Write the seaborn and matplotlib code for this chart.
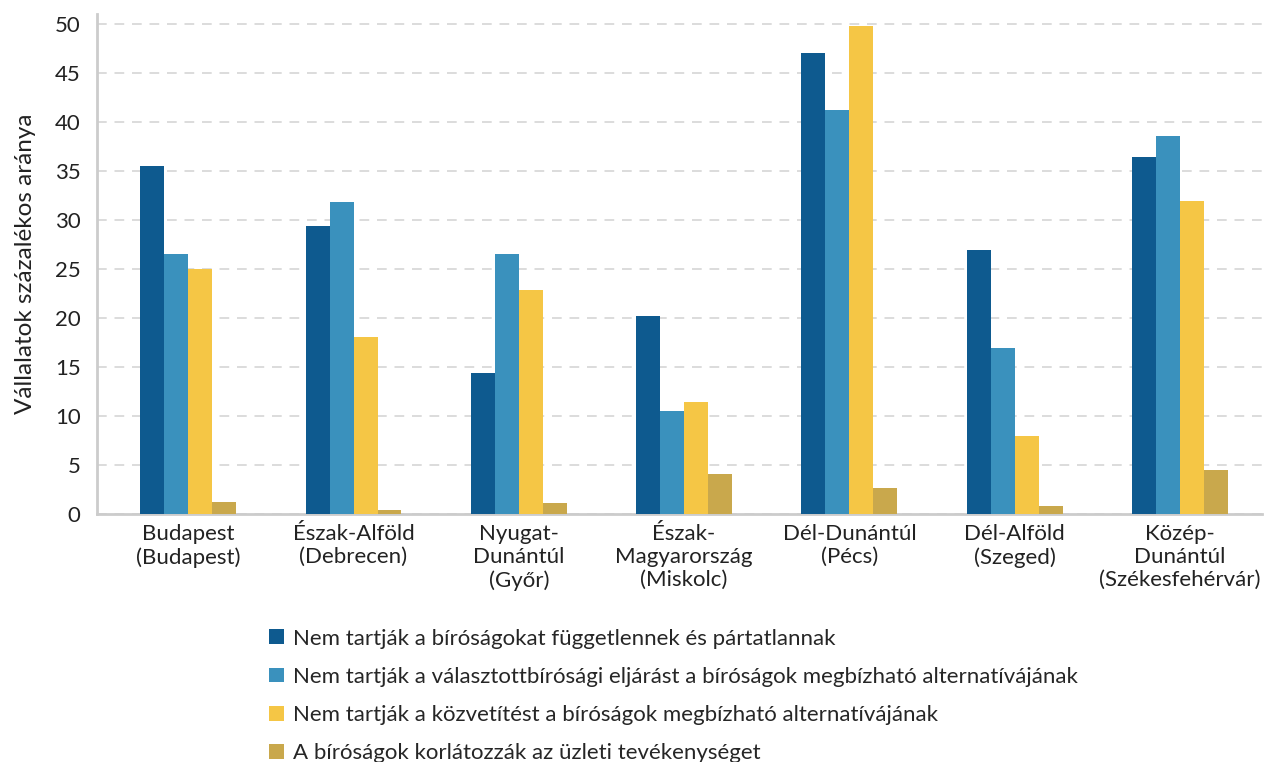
import pandas as pd
import numpy as np
import matplotlib
matplotlib.use("Agg")
import matplotlib.pyplot as plt
import seaborn as sns

regions = ["Budapest\n(Budapest)", "Észak-Alföld\n(Debrecen)", "Nyugat-\nDunántúl\n(Győr)",
           "Észak-\nMagyarország\n(Miskolc)", "Dél-Dunántúl\n(Pécs)", "Dél-Alföld\n(Szeged)",
           "Közép-\nDunántúl\n(Székesfehérvár)"]

series_names = [
    "Nem tartják a bíróságokat függetlennek és pártatlannak",
    "Nem tartják a választottbírósági eljárást a bíróságok megbízható alternatívájának",
    "Nem tartják a közvetítést a bíróságok megbízható alternatívájának",
    "A bíróságok korlátozzák az üzleti tevékenységet",
]

fuggetlen = [35.5, 29.4, 14.4, 20.2, 47.0, 26.9, 36.4]
valasztott = [26.5, 31.8, 26.5, 10.5, 41.2, 16.9, 38.6]
kozvetites = [25.0, 18.1, 22.9, 11.4, 49.8, 8.0, 31.9]
korlatoz = [1.2, 0.4, 1.1, 4.1, 2.65, 0.8, 4.5]

colors = ["#0e5a8f", "#3a91bd", "#f5c645", "#c9a84c"]

# long format for seaborn
rows = []
for name, vals in zip(series_names, [fuggetlen, valasztott, kozvetites, korlatoz]):
    for r, v in zip(regions, vals):
        rows.append({"region": r, "series": name, "value": v})
df = pd.DataFrame(rows)

sns.set_style("white")
plt.rcParams['font.family'] = ['Lato', 'DejaVu Sans']

fig = plt.figure(figsize=(12.65, 7.62), dpi=100)
ax = fig.add_axes([0.077, 0.3255, 0.921, 0.656])

sns.barplot(data=df, x="region", y="value", hue="series", palette=colors,
            width=0.58, saturation=1, linewidth=0, ax=ax, legend=True, zorder=3)

ax.set_ylim(0, 51)
ax.set_xlim(-0.55, 6.5)
ax.set_yticks(range(0, 51, 5))
ax.yaxis.grid(True, linestyle=(0, (5, 4)), color="#dcdcdc", linewidth=1.4, zorder=0)
ax.set_axisbelow(True)
for s in ["top", "right"]:
    ax.spines[s].set_visible(False)
for s in ["left", "bottom"]:
    ax.spines[s].set_color("#cccccc")
    ax.spines[s].set_linewidth(2)
ax.tick_params(axis="both", length=0, labelsize=16, colors="#222222")
ax.tick_params(axis="y", pad=12)
ax.tick_params(axis="x", pad=7)
ax.set_xlabel("")
ax.set_ylabel("Vállalatok százalékos aránya", fontsize=17.5, color="#222222", labelpad=14)

handles, labels = ax.get_legend_handles_labels()
ax.get_legend().remove()
fig.legend(handles, labels, loc="upper left", bbox_to_anchor=(0.213, 0.175),
           frameon=False, fontsize=16, handlelength=0.65, handleheight=0.65,
           handletextpad=0.4, labelspacing=0.82, borderaxespad=0, borderpad=0)

fig.savefig("out.png", dpi=100)
